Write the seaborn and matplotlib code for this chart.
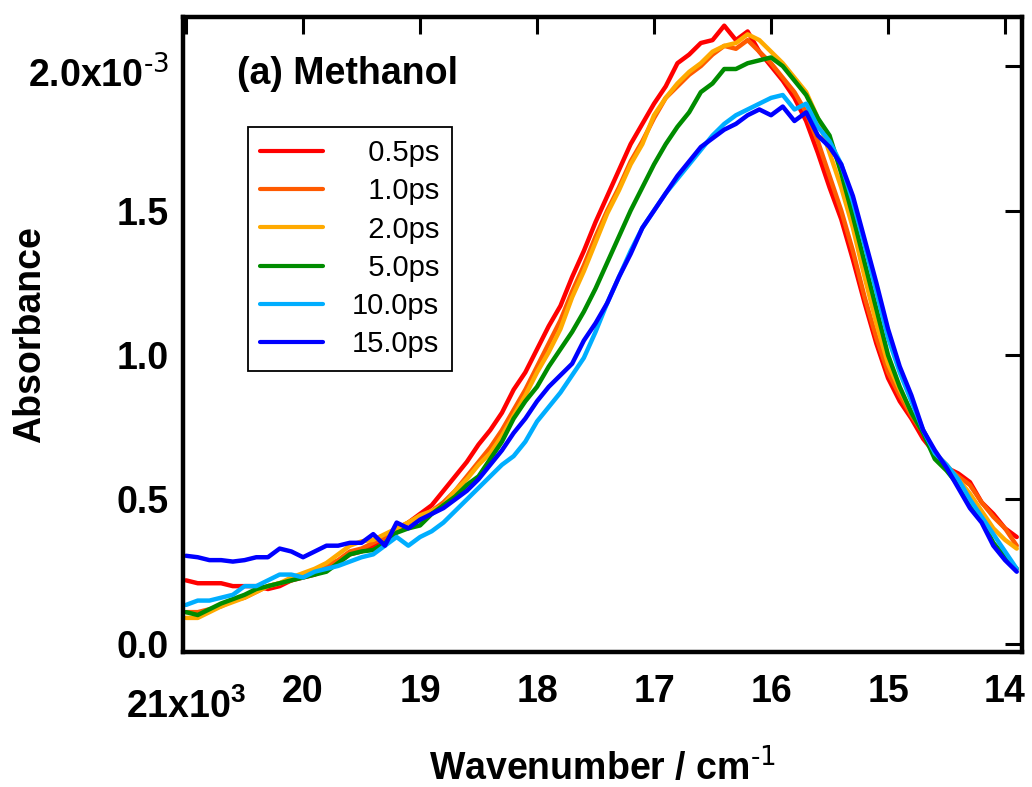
import numpy as np
import pandas as pd
import seaborn as sns
import matplotlib
matplotlib.use('Agg')
import matplotlib.pyplot as plt
import matplotlib.transforms as mtransforms

# %% DATA (absorbance in units of 1e-3)

wavenumber = [21000 - 100 * i for i in range(72)]  # 21000 ... 13900 cm-1

abs_05ps = [0.22, 0.21, 0.21, 0.21, 0.20, 0.20, 0.20, 0.19, 0.20, 0.22,
            0.23, 0.24, 0.26, 0.28, 0.31, 0.32, 0.34, 0.37, 0.39, 0.42,
            0.45, 0.48, 0.53, 0.58, 0.63, 0.69, 0.74, 0.80, 0.88, 0.94,
            1.02, 1.10, 1.17, 1.27, 1.36, 1.46, 1.55, 1.64, 1.73, 1.80,
            1.87, 1.93, 2.01, 2.04, 2.08, 2.09, 2.14, 2.09, 2.12, 2.05,
            2.00, 1.95, 1.89, 1.81, 1.70, 1.58, 1.47, 1.33, 1.18, 1.04,
            0.92, 0.84, 0.78, 0.71, 0.66, 0.61, 0.59, 0.56, 0.49, 0.45,
            0.40, 0.37]
abs_10ps = [0.11, 0.11, 0.12, 0.13, 0.15, 0.16, 0.18, 0.20, 0.21, 0.22,
            0.24, 0.25, 0.27, 0.29, 0.32, 0.33, 0.35, 0.37, 0.40, 0.42,
            0.44, 0.46, 0.49, 0.53, 0.58, 0.63, 0.68, 0.74, 0.81, 0.88,
            0.96, 1.04, 1.12, 1.22, 1.31, 1.41, 1.50, 1.58, 1.67, 1.74,
            1.82, 1.89, 1.93, 1.97, 2.00, 2.04, 2.07, 2.06, 2.09, 2.05,
            2.01, 1.96, 1.91, 1.84, 1.74, 1.62, 1.50, 1.36, 1.20, 1.06,
            0.94, 0.86, 0.79, 0.73, 0.66, 0.61, 0.58, 0.55, 0.49, 0.44,
            0.40, 0.34]
abs_20ps = [0.09, 0.09, 0.11, 0.13, 0.145, 0.16, 0.18, 0.20, 0.21, 0.23,
            0.245, 0.26, 0.28, 0.31, 0.34, 0.355, 0.36, 0.38, 0.40, 0.42,
            0.445, 0.46, 0.48, 0.53, 0.57, 0.62, 0.66, 0.72, 0.79, 0.86,
            0.94, 1.01, 1.09, 1.20, 1.29, 1.39, 1.49, 1.57, 1.66, 1.73,
            1.83, 1.89, 1.94, 1.98, 2.01, 2.05, 2.07, 2.08, 2.11, 2.09,
            2.05, 2.01, 1.96, 1.91, 1.82, 1.70, 1.58, 1.44, 1.27, 1.11,
            0.97, 0.88, 0.80, 0.74, 0.66, 0.62, 0.57, 0.52, 0.46, 0.40,
            0.36, 0.33]
abs_50ps = [0.11, 0.10, 0.12, 0.14, 0.155, 0.17, 0.19, 0.20, 0.21, 0.22,
            0.23, 0.24, 0.25, 0.28, 0.31, 0.32, 0.325, 0.35, 0.385, 0.40,
            0.41, 0.45, 0.48, 0.51, 0.55, 0.58, 0.64, 0.70, 0.78, 0.84,
            0.89, 0.96, 1.02, 1.08, 1.15, 1.23, 1.32, 1.41, 1.50, 1.58,
            1.66, 1.73, 1.79, 1.84, 1.91, 1.94, 1.99, 1.99, 2.01, 2.02,
            2.03, 2.00, 1.95, 1.90, 1.82, 1.76, 1.63, 1.48, 1.32, 1.16,
            1.00, 0.89, 0.80, 0.73, 0.64, 0.60, 0.55, 0.49, 0.43, 0.35,
            0.30, 0.26]
abs_100ps = [0.135, 0.15, 0.15, 0.16, 0.17, 0.20, 0.20, 0.22, 0.24, 0.24,
             0.23, 0.25, 0.26, 0.27, 0.285, 0.30, 0.31, 0.34, 0.37, 0.34,
             0.37, 0.39, 0.42, 0.46, 0.50, 0.54, 0.58, 0.62, 0.65, 0.70,
             0.77, 0.82, 0.87, 0.93, 0.99, 1.08, 1.18, 1.27, 1.36, 1.44,
             1.50, 1.56, 1.61, 1.66, 1.71, 1.76, 1.80, 1.83, 1.85, 1.87,
             1.89, 1.90, 1.85, 1.87, 1.79, 1.74, 1.66, 1.53, 1.38, 1.22,
             1.06, 0.94, 0.84, 0.74, 0.66, 0.62, 0.57, 0.50, 0.44, 0.38,
             0.32, 0.26]
abs_150ps = [0.305, 0.30, 0.29, 0.29, 0.285, 0.29, 0.30, 0.30, 0.33, 0.32,
             0.30, 0.32, 0.34, 0.34, 0.35, 0.35, 0.38, 0.34, 0.42, 0.40,
             0.43, 0.45, 0.47, 0.50, 0.53, 0.57, 0.62, 0.67, 0.73, 0.78,
             0.84, 0.89, 0.93, 0.97, 1.05, 1.11, 1.18, 1.27, 1.35, 1.44,
             1.50, 1.56, 1.62, 1.67, 1.72, 1.75, 1.78, 1.80, 1.83, 1.85,
             1.83, 1.86, 1.81, 1.84, 1.76, 1.72, 1.66, 1.55, 1.40, 1.25,
             1.09, 0.96, 0.86, 0.74, 0.67, 0.61, 0.54, 0.47, 0.42, 0.34,
             0.29, 0.25]

delays = ['0.5ps', '1.0ps', '2.0ps', '5.0ps', '10.0ps', '15.0ps']
colors = ['#FF0000', '#FF5A00', '#FFAA00', '#008C00', '#00AEFF', '#0000FF']

x_ticks = [21000, 20000, 19000, 18000, 17000, 16000, 15000, 14000]
x_ticklabels = ['21x10$^{3}$', '20', '19', '18', '17', '16', '15', '14']
y_ticks = [0.0, 0.5e-3, 1.0e-3, 1.5e-3, 2.0e-3]
y_ticklabels = ['0.0', '0.5', '1.0', '1.5', r'2.0x10$^{\text{-3}}$']

# %% LONG TABLE

series = [abs_05ps, abs_10ps, abs_20ps, abs_50ps, abs_100ps, abs_150ps]
# pad shorter labels with figure spaces so the legend text lines up on the right
width = max(len(d) for d in delays)
labels = ['\u2007' * (width - len(d)) + d for d in delays]

data = pd.concat([
    pd.DataFrame({'Wavenumber': wavenumber,
                  'Absorbance': np.array(vals) * 1e-3,
                  'Delay': lab})
    for vals, lab in zip(series, labels)
])

# %% PLOT

sns.set_style('white')
plt.rcParams['font.family'] = ['Liberation Sans', 'DejaVu Sans']
plt.rcParams['mathtext.default'] = 'regular'
plt.rcParams['axes.unicode_minus'] = False
for key in ['text.color', 'axes.labelcolor', 'xtick.color', 'ytick.color', 'axes.edgecolor']:
    plt.rcParams[key] = 'black'

fig = plt.figure(figsize=(10.32, 7.87), dpi=100)
ax = fig.add_axes([183 / 1032, 1 - 652 / 787, (1022 - 183) / 1032, (652 - 17) / 787])

sns.lineplot(
    data=data,
    x='Wavenumber',
    y='Absorbance',
    hue='Delay',
    hue_order=labels,
    palette=colors,
    sort=False,
    estimator=None,
    linewidth=3.2,
    ax=ax,
)

ax.set_xlim(21026, 13855)
ax.set_ylim(-0.028e-3, 2.17e-3)
ax.set_xticks(x_ticks)
ax.set_xticklabels(x_ticklabels, fontsize=27, fontweight='bold')
ax.set_yticks(y_ticks)
ax.set_yticklabels(y_ticklabels, fontsize=27, fontweight='bold')
ax.tick_params(axis='both', direction='in', length=12, width=2.2,
               top=True, right=True, color='black')
ax.tick_params(axis='x', pad=16)
ax.tick_params(axis='y', pad=10)
for s in ax.spines.values():
    s.set_visible(True)
    s.set_linewidth(3.2)
    s.set_color('black')

# the "x10^n" labels sit a little lower than the plain ones
ax.get_xticklabels()[0].set_transform(
    ax.get_xticklabels()[0].get_transform()
    + mtransforms.ScaledTranslation(0, -14 / 100, fig.dpi_scale_trans))
ax.get_yticklabels()[-1].set_transform(
    ax.get_yticklabels()[-1].get_transform()
    + mtransforms.ScaledTranslation(0, -6 / 100, fig.dpi_scale_trans))

ax.set_xlabel(r'Wavenumber / cm$^{\text{-1}}$', fontsize=27, fontweight='bold')
ax.set_ylabel('Absorbance', fontsize=27, fontweight='bold')
ax.xaxis.set_label_coords(0.50, -0.150)
ax.yaxis.set_label_coords(-0.161, 0.5)

ax.text(0.064, 0.894, '(a) Methanol', transform=ax.transAxes,
        fontsize=27, fontweight='bold', va='baseline', ha='left')

handles, labs = ax.get_legend_handles_labels()
leg = ax.legend(
    handles, labs,
    loc='upper left',
    bbox_to_anchor=(248 / 1032, 1 - 127 / 787),
    bbox_transform=fig.transFigure,
    borderaxespad=0,
    frameon=True,
    fancybox=False,
    edgecolor='black',
    framealpha=1,
    fontsize=21,
    handlelength=2.15,
    handletextpad=1.0,
    labelspacing=0.35,
    borderpad=0.42,
)
leg.get_frame().set_linewidth(1.3)
for line in leg.get_lines():
    line.set_linewidth(3)

fig.savefig('out.png', dpi=100)
